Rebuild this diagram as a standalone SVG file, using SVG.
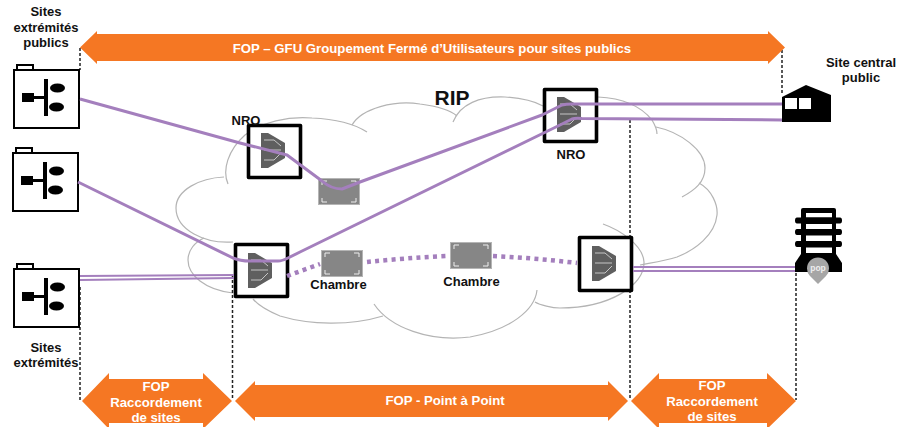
<svg xmlns="http://www.w3.org/2000/svg" width="898" height="427" viewBox="0 0 898 427">
<style>
text{font-family:"Liberation Sans",Arial,sans-serif;font-weight:700;font-size:13px;fill:#111;text-anchor:middle}
.w{fill:#fff;font-size:13.2px}
.cloud{fill:none;stroke:#b4b4b4;stroke-width:1.2}
.p{fill:none;stroke:#a47fbd;stroke-width:3;stroke-linejoin:round}
.t{fill:none;stroke:#a47fbd;stroke-width:1.8}
.dot{fill:none;stroke:#a47fbd;stroke-width:4.500;stroke-dasharray:4 4.300}
.d{fill:none;stroke:#222;stroke-width:1.500;stroke-dasharray:3 2}
.o{fill:#f57723}
.box{fill:#fff;stroke:#000;stroke-width:3.600;stroke-linejoin:round}
.site{fill:#fff;stroke:#000;stroke-width:2}
</style>
<defs>
<g id="siteIcon">
<rect class="site" x="4" y="0" width="16" height="5"/>
<rect class="site" x="1" y="5" width="65" height="58"/>
<rect x="9" y="28" width="12" height="9" fill="#000"/>
<rect x="20" y="31" width="12" height="3" fill="#000"/>
<rect x="31" y="14" width="4" height="37" fill="#000"/>
<ellipse cx="44.500" cy="23" rx="7.500" ry="4.500" fill="#000"/>
<ellipse cx="43.500" cy="42" rx="7.500" ry="4.500" fill="#000"/>
</g>
<g id="splitter">
<path d="M0 0H7L24 10V25L7 35H0Z" fill="#5f5f5f"/>
<path d="M3 7H13L20 13M3 17H20M3 27H13L20 20" fill="none" stroke="#e0e0e0" stroke-width="0.800"/>
</g>
<g id="chambre">
<rect x="0.500" y="0.500" width="41" height="26" fill="#868686" stroke="#b5b5b5"/>
<path d="M4 7V3H9M33 3H38V7M38 20V24H33M9 24H4V20" fill="none" stroke="#eee" stroke-width="1"/>
</g>
</defs>

<g id="cloud">
<path class="cloud" d="M228 184C222 170 228 150 245 135C262 122 288 116 312 118C335 119 353 123 367 132"/>
<path class="cloud" d="M352 125C362 108 395 100 420 104C436 106 450 110 457 116"/>
<path class="cloud" d="M453 122C460 104 480 96 505 97C520 98 532 100 543 106"/>
<path class="cloud" d="M598 97C620 98 640 105 652 120C655 125 657 129 657 134"/>
<path class="cloud" d="M656 127C680 132 705 150 705 168C705 182 695 190 682 197"/>
<path class="cloud" d="M699 183C712 190 718 205 717 215C715 235 695 250 677 257C665 261 650 263 640 265"/>
<path class="cloud" d="M603 224C620 230 643 245 644 262C645 285 610 308 560 308C552 308 540 305 535 302"/>
<path class="cloud" d="M537 290C535 310 510 330 470 337C430 342 390 328 374 304"/>
<path class="cloud" d="M383 316C350 326 310 325 280 316C268 311 258 305 253 299"/>
<path class="cloud" d="M233 293C205 290 188 275 188 260C188 250 195 242 204 238"/>
<path class="cloud" d="M233 242C205 244 176 230 176 208C176 190 200 178 224 177"/>
</g>

<g id="dashed-guides">
<path class="d" d="M80 48V70M80 287V400M232.500 275V400M630 120V400M796 273V400M782 50V93"/>
</g>

<g id="banners">
<path class="o" d="M80 47.500L97 31V34H768V31L785 47.500L768 64V61H97V64Z"/>
<path class="o" d="M82 401L109 373V379H203V373L232 401L203 429V423H109V429Z"/>
<path class="o" d="M235 401L255 381V385H608V381L628 401L608 421V417H255V421Z"/>
<path class="o" d="M631 401L659 373V379H767V373L796 401L767 429V423H659V429Z"/>
<text class="w" x="432" y="52.500">FOP – GFU Groupement Fermé d’Utilisateurs pour sites publics</text>
<text class="w" x="156" y="391">FOP</text>
<text class="w" x="156" y="407">Raccordement</text>
<text class="w" x="156" y="422">de sites</text>
<text class="w" x="445" y="405">FOP  - Point à Point</text>
<text class="w" x="712" y="390">FOP</text>
<text class="w" x="712" y="406">Raccordement</text>
<text class="w" x="712" y="421">de sites</text>
</g>

<g id="site-1"><use href="#siteIcon" x="13" y="65"/></g>
<g id="site-2"><use href="#siteIcon" x="12" y="148"/></g>
<g id="site-3"><use href="#siteIcon" x="13" y="264"/></g>
<g id="labels-sites">
<text x="46" y="16">Sites</text>
<text x="46" y="32">extrémités</text>
<text x="46" y="47">publics</text>
<text x="46" y="352">Sites</text>
<text x="46" y="367">extrémités</text>
</g>

<g id="nro-1">
<rect class="box" x="248.500" y="125.500" width="52" height="52"/>
<use href="#splitter" x="261" y="133"/>
<text x="246" y="125">NRO</text>
</g>
<g id="nro-2">
<rect class="box" x="544.500" y="89.500" width="52" height="52"/>
<use href="#splitter" x="557" y="97"/>
<text x="571" y="159">NRO</text>
</g>
<g id="split-3">
<rect class="box" x="235.500" y="244.500" width="52" height="52"/>
<use href="#splitter" x="248" y="253"/>
</g>
<g id="split-4">
<rect class="box" x="579.500" y="237.500" width="52" height="53"/>
<use href="#splitter" x="592" y="246"/>
</g>
<g id="chambre-1"><use href="#chambre" x="318" y="178"/></g>
<g id="chambre-2"><use href="#chambre" x="321" y="250"/><text x="338.500" y="289">Chambre</text></g>
<g id="chambre-3"><use href="#chambre" x="450" y="242"/><text x="471.500" y="286">Chambre</text></g>

<g id="site-central">
<path d="M782 97L806 85L831 95V122H782Z" fill="#000"/>
<rect x="785" y="98" width="12" height="11" fill="#fff"/>
<rect x="799" y="98" width="12" height="11" fill="#fff"/>
<text x="861" y="67">Site central</text>
<text x="861" y="82">public</text>
</g>

<g id="pop">
<path d="M801 255V210Q801 208 803 208H834Q836 208 836 210V255Z" fill="#000"/>
<path d="M801 254L795 263V272H842V263L836 254Z" fill="#000"/>
<path d="M806 213H832V217.500H806ZM806 224H832V229H806ZM806 235.500H832V241H806ZM806 247.500H832V253H806Z" fill="#fff"/>
<path d="M797 217.500H840Q842 217.500 842 220.500Q842 223.500 840 223.500H797Q795 223.500 795 220.500Q795 217.500 797 217.500ZM797 229H840Q842 229 842 232Q842 235 840 235H797Q795 235 795 232Q795 229 797 229ZM797 241H840Q842 241 842 244Q842 247 840 247H797Q795 247 795 244Q795 241 797 241Z" fill="#000"/>
<path d="M810 276A11 11 0 1 1 826 276L818 284Z" fill="#a6a6a6"/>
<text x="818" y="271" style="fill:#eee;font-size:8.500px">pop</text>
</g>

<g id="connectors">
<path class="p" d="M80 99L240 143L287 155L322 181Q331 189 342 189L360 182L542 115L562 105Q566 104 572 104L782 104"/>
<path class="p" d="M78 182L233 258Q240 261 250 261H278Q282 261 288 258L300 252L560 125L572 119Q575 118 582 118.500L782 120"/>
<path class="t" d="M80 276L234 275M80 280L234 278"/>
<path class="t" d="M633 267H795M633 271H795"/>
<path class="dot" d="M287 276L320 264M367 262Q405 258 447 256M493 256Q535 258 577 263"/>
</g>

<text x="452" y="105" style="font-size:21px">RIP</text>
</svg>
